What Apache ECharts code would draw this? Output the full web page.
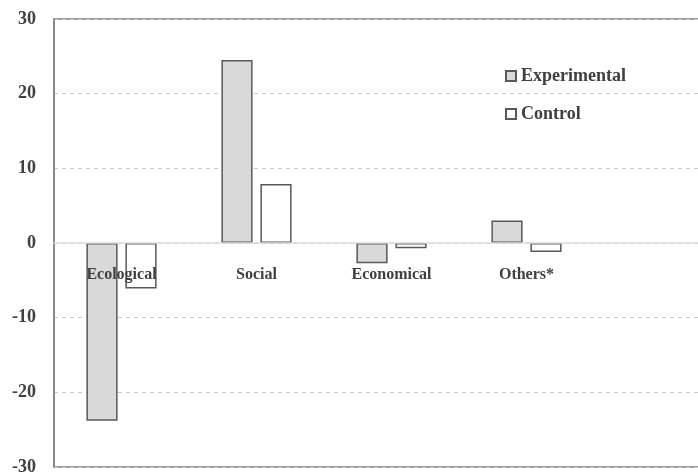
<!DOCTYPE html>
<html>
<head>
<meta charset="utf-8">
<script src="https://cdn.jsdelivr.net/npm/echarts@6/dist/echarts.min.js"></script>
<style>html,body{margin:0;padding:0;background:#fff}#c{width:698px;height:476px}</style>
</head>
<body>
<div id="c"></div>
<script>
const categories = ['Ecological', 'Social', 'Economical', 'Others*', ''];
const experimental = [-23.8, 24.5, -2.7, 3.0, null];
const control = [-6.1, 7.9, -0.7, -1.2, null];
const yTicks = { min: -30, max: 30, interval: 10 };

const font = 'Liberation Serif, Times New Roman, serif';
const textColor = '#404040';
const gridTop = 19, gridHeight = 448;
const zeroOffset = -gridHeight * (0 - yTicks.min) / (yTicks.max - yTicks.min);
const chart = echarts.init(document.getElementById('c'));
chart.setOption({
  animation: false,
  backgroundColor: '#fff',
  grid: { left: 54, top: gridTop, width: 675, height: gridHeight, containLabel: false, outerBoundsMode: 'none',
    show: true, borderColor: '#808080', borderWidth: 1.5, backgroundColor: 'transparent' },
  legend: {
    left: 500, top: 62, orient: 'vertical', itemGap: 20, itemWidth: 10, itemHeight: 10,
    icon: 'rect',
    textStyle: { fontFamily: font, fontWeight: 'bold', fontSize: 18, color: textColor },
    data: ['Experimental', 'Control']
  },
  xAxis: {
    type: 'category', data: categories, z: 10, position: 'bottom', offset: zeroOffset,
    axisLine: { onZero: false, lineStyle: { color: '#dcdcdc', width: 1.5 } },
    axisTick: { show: false },
    axisLabel: { margin: 24, fontFamily: font, fontWeight: 'bold', fontSize: 16, color: textColor, interval: 0 }
  },
  yAxis: {
    type: 'value', min: yTicks.min, max: yTicks.max, interval: yTicks.interval,
    axisLine: { show: true, lineStyle: { color: '#808080', width: 1.5 } },
    axisTick: { show: false },
    splitLine: { lineStyle: { color: '#c8c8c8', type: [4, 4], width: 1 } },
    axisLabel: { margin: 18, fontFamily: font, fontWeight: 'bold', fontSize: 18, color: textColor }
  },
  series: [
    { name: 'Experimental', type: 'bar', data: experimental, barGap: '25%', barCategoryGap: '48%',
      itemStyle: { color: '#d9d9d9', borderColor: '#595959', borderWidth: 1.5 } },
    { name: 'Control', type: 'bar', data: control,
      itemStyle: { color: '#ffffff', borderColor: '#595959', borderWidth: 1.5 } }
  ]
});
</script>
</body>
</html>
